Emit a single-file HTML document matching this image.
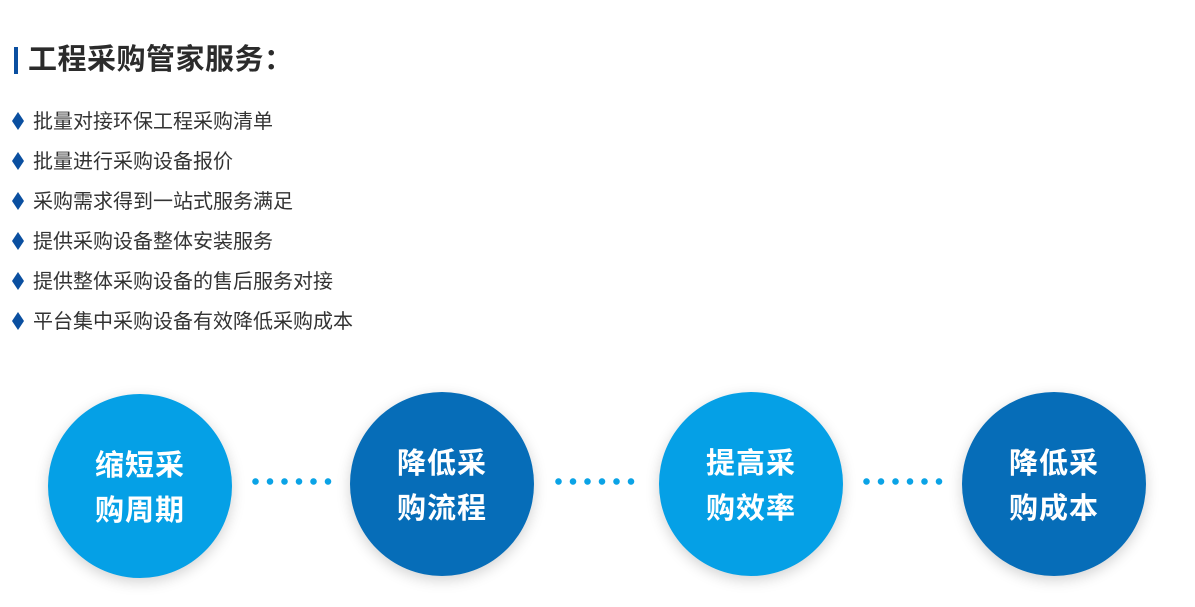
<!DOCTYPE html>
<html><head><meta charset="utf-8"><style>
body{margin:0;width:1195px;height:607px;background:#fff;position:relative;overflow:hidden;font-family:"Liberation Sans","Noto Sans CJK SC",sans-serif;}
.t{position:absolute;left:28px;top:41px;font-size:29px;line-height:38px;color:#2b2b2b;font-weight:bold;letter-spacing:0.5px;}
.bar{position:absolute;left:14px;top:47px;width:4px;height:27px;background:#0a4fa0;}
.li{position:absolute;left:12px;font-size:20px;line-height:26px;color:#333;}
.li span{display:inline-block;width:12px;height:18px;background:#0a4fa0;clip-path:polygon(50% 0,100% 50%,50% 100%,0 50%);vertical-align:-2px;margin-right:9px;}
.c{position:absolute;width:184px;height:184px;box-sizing:border-box;padding-top:6px;border-radius:50%;color:#fff;font-size:29px;font-weight:bold;line-height:45px;text-align:center;display:flex;align-items:center;justify-content:center;box-shadow:0 4px 14px rgba(0,0,0,0.18);letter-spacing:1px;}
.l{background:#05a0e6}.d{background:#066db8}
.dots{position:absolute;top:478px;height:7px;width:80px;background:radial-gradient(circle at 3.5px 3.5px,#0aa3e6 3px,transparent 3.5px);background-size:14.5px 7px;}
</style></head><body>
<div class="bar"></div>
<div class="t">工程采购管家服务：</div>
<div class="li" style="top:109px"><span></span>批量对接环保工程采购清单</div>
<div class="li" style="top:149px"><span></span>批量进行采购设备报价</div>
<div class="li" style="top:189px"><span></span>采购需求得到一站式服务满足</div>
<div class="li" style="top:229px"><span></span>提供采购设备整体安装服务</div>
<div class="li" style="top:269px"><span></span>提供整体采购设备的售后服务对接</div>
<div class="li" style="top:309px"><span></span>平台集中采购设备有效降低采购成本</div>
<div class="c l" style="left:48px;top:394px">缩短采<br>购周期</div>
<div class="dots" style="left:252px"></div>
<div class="c d" style="left:350px;top:392px">降低采<br>购流程</div>
<div class="dots" style="left:555px"></div>
<div class="c l" style="left:659px;top:392px">提高采<br>购效率</div>
<div class="dots" style="left:863px"></div>
<div class="c d" style="left:962px;top:392px">降低采<br>购成本</div>
</body></html>
